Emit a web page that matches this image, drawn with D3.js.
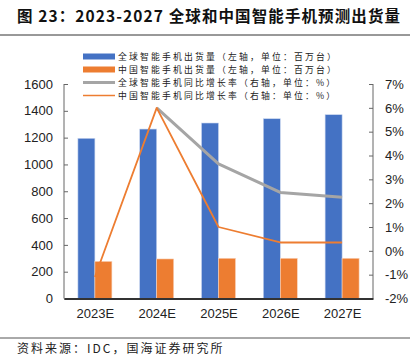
<!DOCTYPE html>
<html><head><meta charset="utf-8">
<script src="https://cdn.jsdelivr.net/npm/d3@7/dist/d3.min.js"></script>
<style>body{margin:0;background:#fff;}svg{display:block;}</style>
</head><body>
<svg id="c" width="420" height="359"></svg>
<script>
const categories = ["2023E","2024E","2025E","2026E","2027E"];
const globalShip = [1195, 1264, 1309, 1341, 1371];
const chinaShip = [277, 295, 300, 300, 300];
const globalGrowth = [null, 6.0, 3.65, 2.45, 2.25];
const chinaGrowth = [-1.1, 6.0, 1.0, 0.35, 0.35];
const leftTicks = [0,200,400,600,800,1000,1200,1400,1600];
const rightTicks = [-2,-1,0,1,2,3,4,5,6,7];
const legendLabels = [
  "全球智能手机出货量（左轴，单位：百万台）",
  "中国智能手机出货量（左轴，单位：百万台）",
  "全球智能手机同比增长率（右轴，单位：%）",
  "中国智能手机同比增长率（右轴：单位：%）"
];
const titleText = "图 23：2023-2027 全球和中国智能手机预测出货量";
const sourceText = "资料来源：IDC，国海证券研究所";

const svg = d3.select("#c");
const cjk = "'Noto Sans CJK SC', 'Noto Sans', sans-serif";
const latin = "'Liberation Sans', Arial, sans-serif";
const X0 = 64, X1 = 373, Y0 = 298.5, Y1 = 84;
const blue = "#4472C4", orange = "#ED7D31", gray = "#A5A5A5";

// title
svg.append("text").attr("x", 17).attr("y", 22).attr("font-family", cjk)
  .attr("font-weight", "bold").attr("font-size", 15.5).attr("letter-spacing", 1.1)
  .attr("fill", "#111").text(titleText);
svg.append("line").attr("x1", 0).attr("x2", 410).attr("y1", 35).attr("y2", 35)
  .attr("stroke", "#333").attr("stroke-width", 1);
svg.append("line").attr("x1", 0).attr("x2", 410).attr("y1", 338).attr("y2", 338)
  .attr("stroke", "#555").attr("stroke-width", 1);
svg.append("text").attr("x", 17).attr("y", 353).attr("font-family", cjk)
  .attr("font-size", 12).attr("letter-spacing", 2).attr("fill", "#222").text(sourceText);

const x = d3.scaleBand().domain(categories).range([X0, X1]).paddingInner(0.45).paddingOuter(0.225);
const xc = d3.scalePoint().domain(categories).range([X0, X1]).padding(0.5);
const y = d3.scaleLinear().domain([0, 1600]).range([Y0, Y1]);
const yr = d3.scaleLinear().domain([-2, 7]).range([Y0, Y1]);
const bw = x.bandwidth() / 2;

// bars
svg.append("g").selectAll("rect.b").data(globalShip).join("rect")
  .attr("x", (d,i) => xc(categories[i]) - bw).attr("width", bw)
  .attr("y", d => y(d)).attr("height", d => Y0 - y(d)).attr("fill", blue)
  .attr("stroke", "#c9d6ef").attr("stroke-width", 0.6);
svg.append("g").selectAll("rect.o").data(chinaShip).join("rect")
  .attr("x", (d,i) => xc(categories[i])).attr("width", bw)
  .attr("y", d => y(d)).attr("height", d => Y0 - y(d)).attr("fill", orange)
  .attr("stroke", "#f8d3bb").attr("stroke-width", 0.6);

// lines
const line = d3.line().defined(d => d[1] != null).x(d => xc(d[0])).y(d => yr(d[1]));
svg.append("path").datum(categories.map((c,i) => [c, globalGrowth[i]]))
  .attr("d", line).attr("fill", "none").attr("stroke", gray).attr("stroke-width", 3)
  .attr("stroke-linejoin", "round");
svg.append("path").datum(categories.map((c,i) => [c, chinaGrowth[i]]))
  .attr("d", line).attr("fill", "none").attr("stroke", orange).attr("stroke-width", 1.8)
  .attr("stroke-linejoin", "round");

// axes
const la = svg.append("g").attr("transform", `translate(${X0},0)`)
  .call(d3.axisLeft(y).tickValues(leftTicks).tickSize(-4).tickPadding(11).tickFormat(d3.format("d")));
const ra = svg.append("g").attr("transform", `translate(${X1},0)`)
  .call(d3.axisRight(yr).tickValues(rightTicks).tickSize(-4).tickPadding(12).tickFormat(d => d + "%"));
const ba = svg.append("g").attr("transform", `translate(0,${Y0})`)
  .call(d3.axisBottom(xc).tickSize(0).tickPadding(10));
[la, ra, ba].forEach(a => {
  a.selectAll("text").attr("font-family", latin).attr("font-size", 13).attr("fill", "#222");
  a.selectAll("path, line").attr("stroke", "#666");
});
ba.select("path").attr("stroke", "#333").attr("stroke-width", 2);
la.select("path").attr("d", `M0,${Y1}V${Y0}`);
ra.select("path").attr("d", `M0,${Y1}V${Y0}`);

// legend
const lg = svg.append("g");
const sw = [
  {c: blue, w: 6}, {c: orange, w: 6}, {c: gray, w: 3}, {c: orange, w: 1.5}
];
const ly = [56.5, 69.5, 82.5, 95.5];
legendLabels.forEach((t, i) => {
  lg.append("line").attr("x1", 83).attr("x2", 115).attr("y1", ly[i]).attr("y2", ly[i])
    .attr("stroke", sw[i].c).attr("stroke-width", sw[i].w);
  lg.append("text").attr("x", 118).attr("y", ly[i] + 3.3).attr("font-family", cjk)
    .attr("font-size", 8.8).attr("letter-spacing", 2.2).attr("fill", "#222").text(t);
});
</script>
</body></html>
